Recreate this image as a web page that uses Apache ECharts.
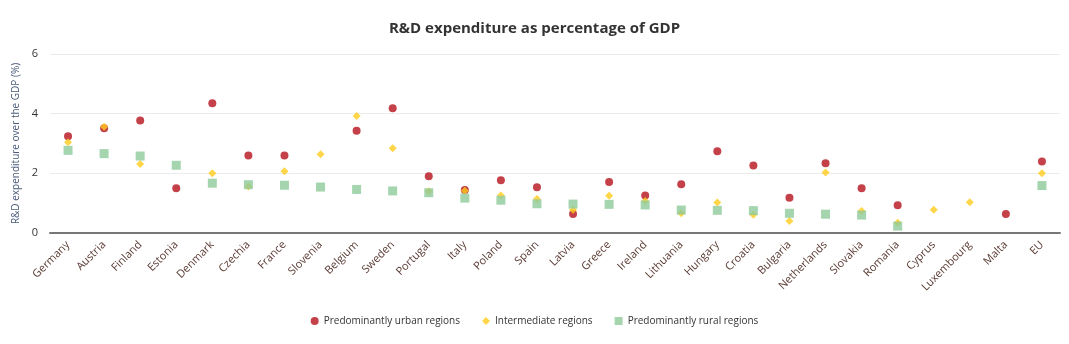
<!DOCTYPE html>
<html>
<head>
<meta charset="utf-8">
<script src="https://cdn.jsdelivr.net/npm/echarts@6/dist/echarts.min.js"></script>
<style>html,body{margin:0;padding:0;background:#fff}#c{width:1069px;height:344px}</style>
</head>
<body>
<div id="c"></div>
<script>
const categories = ["Germany","Austria","Finland","Estonia","Denmark","Czechia","France","Slovenia","Belgium","Sweden","Portugal","Italy","Poland","Spain","Latvia","Greece","Ireland","Lithuania","Hungary","Croatia","Bulgaria","Netherlands","Slovakia","Romania","Cyprus","Luxembourg","Malta","EU"];
const urban = [3.24,3.51,3.77,1.50,4.35,2.60,2.60,null,3.43,4.18,1.90,1.44,1.77,1.53,0.64,1.71,1.26,1.63,2.74,2.26,1.18,2.34,1.50,0.93,null,null,0.64,2.40];
const intermediate = [3.04,3.56,2.31,null,2.00,1.56,2.07,2.64,3.92,2.84,1.40,1.42,1.26,1.14,0.78,1.25,1.07,0.66,1.02,0.61,0.40,2.03,0.74,0.34,0.78,1.03,null,2.00];
const rural = [2.77,2.66,2.58,2.27,1.67,1.62,1.60,1.54,1.46,1.41,1.35,1.17,1.10,0.98,0.97,0.96,0.94,0.77,0.76,0.75,0.66,0.63,0.60,0.23,null,null,null,1.59];
const yTicks = [0,2,4,6];

const font = "'Open Sans', 'Noto Sans', sans-serif";
const chart = echarts.init(document.getElementById('c'));
chart.setOption({
  animation: false,
  textStyle: {fontFamily: font},
  title: {
    text: 'R&D expenditure as percentage of GDP',
    left: 'center', top: 16,
    textStyle: {fontSize: 15, fontWeight: 'bold', color: '#333', fontFamily: font}
  },
  legend: {
    bottom: 13, left: 'center', itemGap: 22, itemWidth: 8, itemHeight: 8,
    textStyle: {fontSize: 10, color: '#333', fontFamily: font},
    data: [
      {name: 'Predominantly urban regions', icon: 'circle', itemStyle:{color:'#b5121b'}},
      {name: 'Intermediate regions', icon: 'diamond', itemStyle:{color:'#ffcc1c'}},
      {name: 'Predominantly rural regions', icon: 'rect', itemStyle:{color:'#8fca9b'}}
    ]
  },
  grid: {left: 50, right: 9, top: 54, bottom: 111, containLabel: false},
  xAxis: {
    type: 'category', data: categories,
    axisLine: {lineStyle: {color: '#777', width: 2}},
    axisTick: {show: false},
    axisLabel: {rotate: 45, fontSize: 11, color: '#5a3a33', margin: 10, interval: 0, fontFamily: font},
    splitLine: {show: false}
  },
  yAxis: {
    type: 'value', min: yTicks[0], max: yTicks[yTicks.length-1], interval: 2,
    name: 'R&D expenditure over the GDP (%)', nameLocation: 'middle', nameGap: 24,
    nameTextStyle: {fontSize: 10, color: '#4a5a7a', fontFamily: font},
    axisLine: {show: false}, axisTick: {show: false},
    axisLabel: {fontSize: 11, color: '#333', margin: 12, fontFamily: font},
    splitLine: {lineStyle: {color: '#ebebeb'}}
  },
  series: [
    {name: 'Predominantly urban regions', type: 'scatter', symbol: 'circle', symbolSize: 8, data: urban, itemStyle: {color: '#b5121b'}, z: 2},
    {name: 'Intermediate regions', type: 'scatter', symbol: 'diamond', symbolSize: 8, data: intermediate, itemStyle: {color: '#ffcc1c'}, z: 3},
    {name: 'Predominantly rural regions', type: 'scatter', symbol: 'rect', symbolSize: 9, data: rural, itemStyle: {color: '#8fca9b'}, z: 4}
  ]
});
</script>
</body>
</html>
